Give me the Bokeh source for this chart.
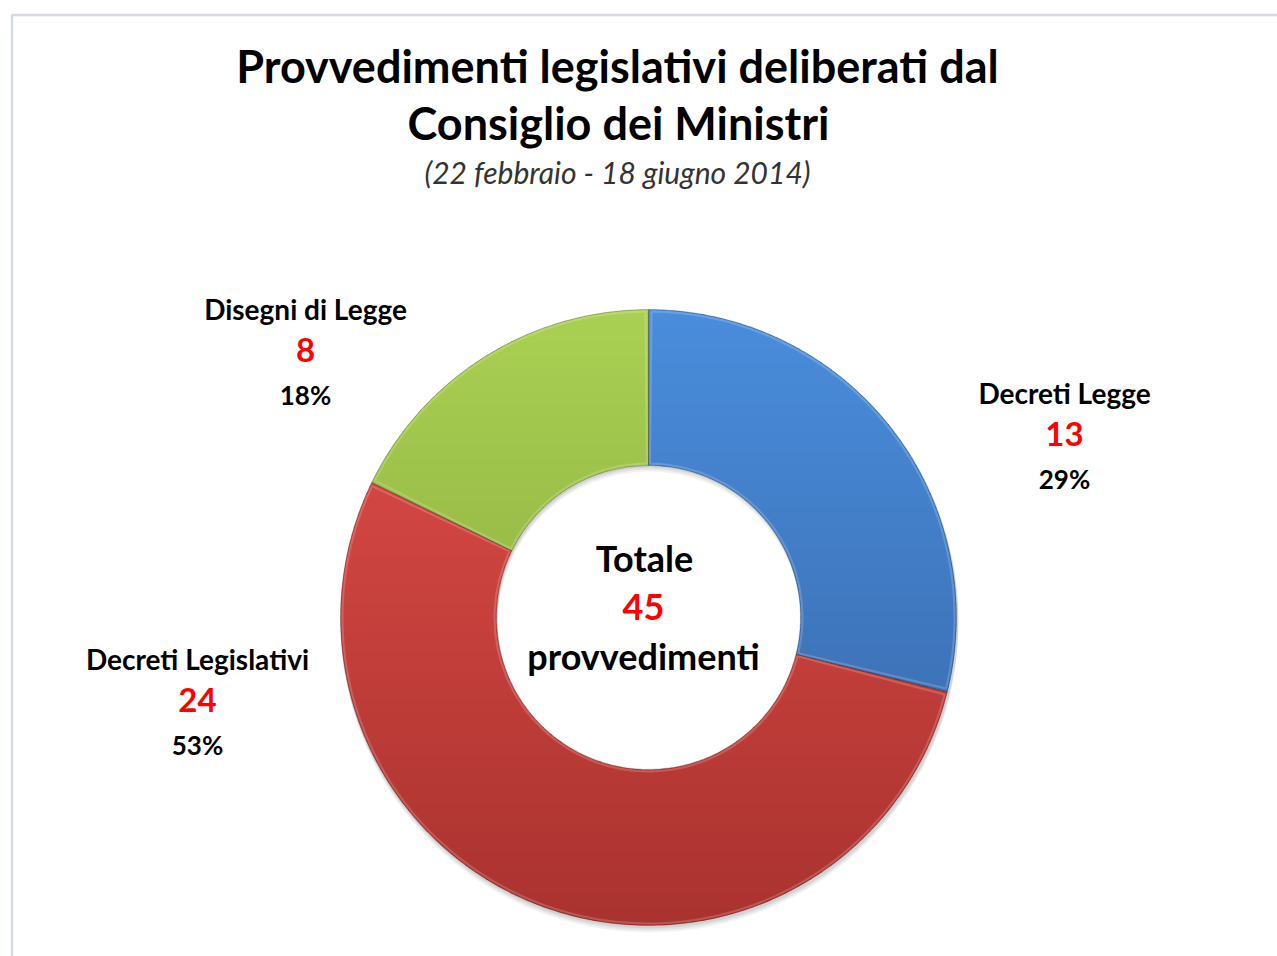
import numpy as np
from bokeh.plotting import figure
from bokeh.models import Range1d
from bokeh.embed import file_html
from bokeh.resources import INLINE
from bokeh.core.properties import value

# ---------------- data ----------------
categories = ["Decreti Legge", "Decreti Legislativi", "Disegni di Legge"]
counts = [13, 24, 8]
title_lines = ["Provvedimenti legislativi deliberati dal", "Consiglio dei Ministri"]
subtitle = "(22 febbraio - 18 giugno 2014)"
center_top = "Totale"
center_bottom = "provvedimenti"

# ---------------- styles ----------------
colors_top = ["#4a8ddc", "#e24e49", "#aad053"]
colors_bottom = ["#3563a2", "#a9322f", "#7f9f35"]
FONT = "Lato"
W, H = 1277, 956


def sy(y):
    # screen y -> data y
    return H - y


p = figure(width=W, height=H, output_backend="svg", toolbar_location=None,
           x_range=Range1d(0, W), y_range=Range1d(0, H), min_border=0,
           background_fill_color="white", border_fill_color="white")
p.axis.visible = False
p.grid.visible = False
p.outline_line_color = None

# frame border
p.line([W + 5, 11.5, 11.5], [sy(14.5), sy(14.5), -5], line_color="#d5dae6", line_width=2.5)

# donut geometry
cx, cy = 648, sy(617)
R, r = 308, 152

total = sum(counts)
fracs = np.array(counts) / total
cum = np.concatenate([[0], np.cumsum(fracs)])
starts = np.pi / 2 - 2 * np.pi * cum[:-1]
ends = np.pi / 2 - 2 * np.pi * cum[1:]


def hex2rgb(h):
    h = h.lstrip("#")
    return np.array([int(h[i:i + 2], 16) for i in (0, 2, 4)], dtype=float)


def rgb2hex(c):
    c = np.clip(np.round(c), 0, 255).astype(int)
    return "#%02x%02x%02x" % tuple(c)


def clip_half(poly, yv, keep_above):
    out = []
    n = len(poly)
    for i in range(n):
        a = poly[i]
        b = poly[(i + 1) % n]
        ina = a[1] >= yv if keep_above else a[1] <= yv
        inb = b[1] >= yv if keep_above else b[1] <= yv
        if ina:
            out.append(a)
        if ina != inb:
            t = (yv - a[1]) / (b[1] - a[1])
            out.append((a[0] + t * (b[0] - a[0]), yv))
    return out


# soft shadow
for k, al in [(6, 0.05), (4, 0.06), (2, 0.07)]:
    p.annular_wedge(x=cx + 1, y=cy - k, inner_radius=r, outer_radius=R + 1,
                    start_angle=-np.pi, end_angle=np.pi, fill_color="black",
                    fill_alpha=al, line_color=None)

nb = 90
band_edges = np.linspace(cy - R - 2, cy + R + 2, nb + 1)
xs_all, ys_all, cols_all = [], [], []
for i in range(len(counts)):
    a0, a1 = starts[i], ends[i]
    th = np.linspace(a0, a1, 200)
    poly = [(cx + R * np.cos(t), cy + R * np.sin(t)) for t in th]
    poly += [(cx + r * np.cos(t), cy + r * np.sin(t)) for t in th[::-1]]
    ct, cb = hex2rgb(colors_top[i]), hex2rgb(colors_bottom[i])
    for j in range(nb):
        y0, y1 = band_edges[j], band_edges[j + 1]
        pc = clip_half(poly, y0 - 0.4, True)
        if len(pc) < 3:
            continue
        pc = clip_half(pc, y1 + 0.4, False)
        if len(pc) < 3:
            continue
        tt = (cy + R - 0.5 * (y0 + y1)) / (2 * R)
        col = ct + (cb - ct) * tt
        xs_all.append([q[0] for q in pc])
        ys_all.append([q[1] for q in pc])
        cols_all.append(rgb2hex(col))

p.patches(xs_all, ys_all, fill_color=cols_all, line_color=None)

# slice edges
p.annular_wedge(x=cx, y=cy, inner_radius=r, outer_radius=R, start_angle=ends,
                end_angle=starts, fill_color=None, line_color="#000000",
                line_alpha=0.22, line_width=1)
# inner highlight
p.annular_wedge(x=cx, y=cy, inner_radius=r + 2, outer_radius=R - 2, start_angle=ends + 0.01,
                end_angle=starts - 0.01, fill_color=None, line_color="#ffffff",
                line_alpha=0.18, line_width=2)

# title
p.text(x=[617, 618], y=[sy(65), sy(122)], text=title_lines, text_font=value(FONT),
       text_font_style="bold", text_font_size="45px", text_color="black",
       text_align="center", text_baseline="middle")
p.text(x=[617], y=[sy(171)], text=[subtitle], text_font=value(FONT),
       text_font_style="italic", text_font_size="30px", text_color="#333333",
       text_align="center", text_baseline="middle")

# slice labels
lab_x = [1064, 197, 305]
lab_y = [392, 658, 308]
pcts = ["%d%%" % round(100 * c / total) for c in counts]
p.text(x=lab_x, y=[sy(v) for v in lab_y], text=categories, text_font=value(FONT),
       text_font_style="bold", text_font_size="28px", text_color="black",
       text_align="center", text_baseline="middle")
p.text(x=lab_x, y=[sy(v + 41) for v in lab_y], text=[str(c) for c in counts],
       text_font=value(FONT), text_font_style="bold", text_font_size="33px",
       text_color="#ff0000", text_align="center", text_baseline="middle")
p.text(x=lab_x, y=[sy(v + 86) for v in lab_y], text=pcts, text_font=value(FONT),
       text_font_style="bold", text_font_size="26px", text_color="black",
       text_align="center", text_baseline="middle")

# centre
p.text(x=[644, 643], y=[sy(557), sy(655)], text=[center_top, center_bottom],
       text_font=value(FONT), text_font_style="bold", text_font_size="36px",
       text_color="black", text_align="center", text_baseline="middle")
p.text(x=[643], y=[sy(606)], text=[str(total)], text_font=value(FONT),
       text_font_style="bold", text_font_size="36px", text_color="#ff0000",
       text_align="center", text_baseline="middle")

open("out.html", "w").write(file_html(p, INLINE))
